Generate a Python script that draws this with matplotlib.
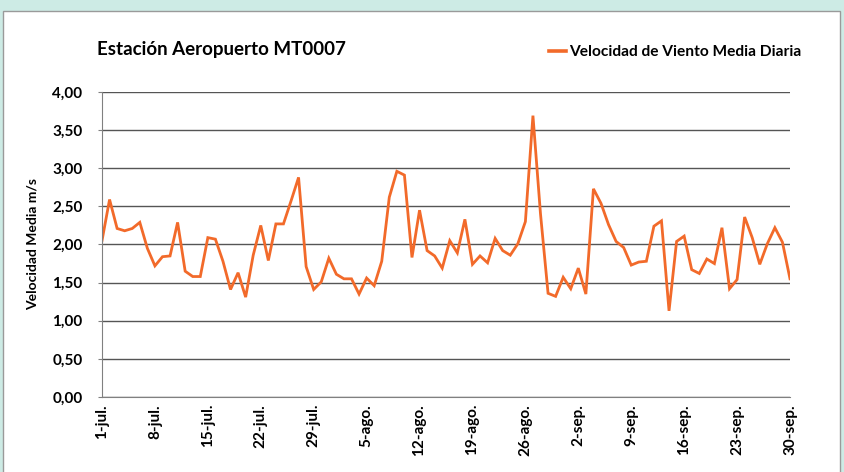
import matplotlib
matplotlib.use("Agg")
import matplotlib.pyplot as plt
from matplotlib.patches import Rectangle
import numpy as np

# daily mean wind speed, 1-jul .. 30-sep (92 days)
jul = [2.05, 2.59, 2.21, 2.18, 2.21, 2.29, 1.95, 1.72, 1.84, 1.85,
       2.29, 1.65, 1.58, 1.58, 2.09, 2.07, 1.78, 1.41, 1.63, 1.31,
       1.86, 2.25, 1.79, 2.27, 2.27, 2.57, 2.88, 1.71, 1.41, 1.51,
       1.82]
ago = [1.61, 1.55, 1.55, 1.35, 1.56, 1.46, 1.78, 2.62, 2.96, 2.91,
       1.83, 2.45, 1.92, 1.85, 1.69, 2.05, 1.89, 2.33, 1.74, 1.85,
       1.76, 2.08, 1.92, 1.86, 2.01, 2.30, 3.69, 2.40, 1.36, 1.32,
       1.57]
sep = [1.42, 1.69, 1.35, 2.73, 2.54, 2.26, 2.04, 1.96, 1.73, 1.77,
       1.78, 2.24, 2.31, 1.13, 2.04, 2.11, 1.67, 1.62, 1.81, 1.75,
       2.22, 1.42, 1.54, 2.36, 2.09, 1.74, 2.01, 2.22, 2.03, 1.55]
speed = jul + ago + sep

tick_labels = ["1-jul.", "8-jul.", "15-jul.", "22-jul.", "29-jul.", "5-ago.",
               "12-ago.", "19-ago.", "26-ago.", "2-sep.", "9-sep.", "16-sep.",
               "23-sep.", "30-sep."]

plt.rcParams["font.family"] = ["Lato", "DejaVu Sans"]

fig = plt.figure(figsize=(8.45, 4.72), dpi=100)
fig.patch.set_facecolor("#CDEBE5")
# white chart panel with thin gray frame
fig.patches.append(Rectangle((3 / 845, -0.02), 837 / 845, 1 - 11 / 472 + 0.02,
                             transform=fig.transFigure, facecolor="white",
                             edgecolor="#9A9A9A", linewidth=1.0, zorder=-5))

ax = fig.add_axes([102 / 845, 75 / 472, 688 / 845, 305 / 472])
ax.set_facecolor("none")
ax.set_zorder(2)

x = np.arange(len(speed))
ax.plot(x, speed, color="#F26A2A", linewidth=2.0, solid_joinstyle="miter")

ax.set_xlim(0, len(speed) - 1)
ax.set_ylim(0, 4)
ax.set_yticks(np.arange(0, 4.01, 0.5))
ax.set_yticklabels([f"{v:.2f}".replace(".", ",") for v in np.arange(0, 4.01, 0.5)],
                   fontsize=11, fontweight="bold")
ax.set_xticks(x[::7])
ax.set_xticklabels(tick_labels, rotation=90, fontsize=11, fontweight="bold")
ax.tick_params(axis="x", length=0, pad=5)
ax.tick_params(axis="y", length=3, color="#808080", pad=11)
ax.grid(axis="y", color="#555555", linewidth=1.0)
ax.set_axisbelow(True)

for s in ["top", "right"]:
    ax.spines[s].set_visible(False)
ax.spines["left"].set_color("#808080")
ax.spines["bottom"].set_color("#808080")

ax.set_ylabel("Velocidad Media m/s", fontsize=10, fontweight="bold", labelpad=10)

fig.text(97 / 845, 1 - 50 / 472, "Estación Aeropuerto MT0007", fontsize=13.5,
         fontweight="bold", va="center", ha="left")
leg = ax.legend(["Velocidad de Viento Media Diaria"], loc="upper right",
                bbox_to_anchor=(815 / 845, 1 - 31 / 472), bbox_transform=fig.transFigure,
                frameon=False, handlelength=1.1, handletextpad=0.2,
                prop={"weight": "bold", "size": 11.2})
leg.get_lines()[0].set_linewidth(2.6)

fig.savefig("out.png", dpi=100)
